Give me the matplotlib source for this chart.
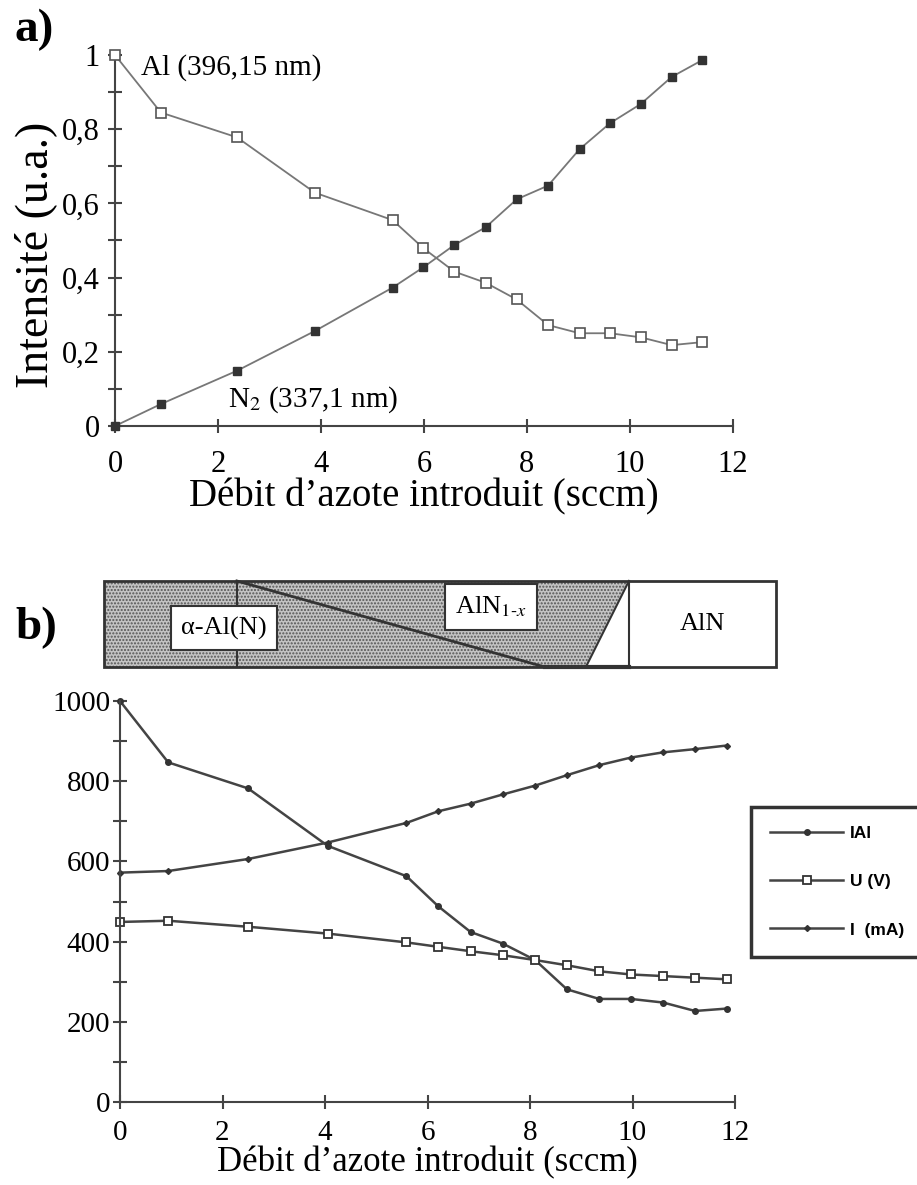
import matplotlib.pyplot as plt
from matplotlib.patches import Polygon, Rectangle

plt.rcParams['font.family'] = ['Liberation Serif', 'DejaVu Serif']
plt.rcParams['mathtext.fontset'] = 'stix'

# panel a : emission intensities vs nitrogen flow
debit_a = [0, 0.89, 2.37, 3.88, 5.39, 5.99, 6.59, 7.2, 7.8, 8.41, 9.02, 9.61, 10.21, 10.81, 11.4]
al_396 = [1.0, 0.845, 0.778, 0.629, 0.555, 0.479, 0.416, 0.386, 0.341, 0.272, 0.250, 0.250, 0.239, 0.218, 0.226]
n2_337 = [0, 0.059, 0.149, 0.256, 0.373, 0.428, 0.488, 0.536, 0.611, 0.648, 0.746, 0.816, 0.868, 0.941, 0.986]

# panel b : discharge parameters vs nitrogen flow
debit_b = [0, 0.94, 2.5, 4.05, 5.59, 6.21, 6.84, 7.47, 8.1, 8.72, 9.35, 9.97, 10.6, 11.22, 11.84]
i_al = [1000, 847, 782, 639, 563, 488, 424, 395, 354, 281, 257, 257, 248, 227, 233]
u_v = [449, 452, 437, 420, 398, 387, 376, 366, 354, 341, 326, 318, 314, 310, 306]
i_ma = [572, 576, 606, 647, 696, 725, 744, 767, 789, 815, 840, 859, 872, 880, 889]

# phase band above panel b (in sccm)
band_left, band_right = -0.31, 12.8
alpha_edge = 2.28
diag_end = 8.29
slant_bottom, slant_top = 9.09, 9.93

xlabel = "Débit d\u2019azote introduit (sccm)"

fig = plt.figure(figsize=(9.17, 11.85), dpi=100)
W, H = 917, 1185


def px_axes(x0, y0, x1, y1):
    # pixel box (top-left origin) -> figure axes
    return fig.add_axes([x0 / W, 1 - y1 / H, (x1 - x0) / W, (y1 - y0) / H])


def style_axes(ax):
    for s in ['top', 'right']:
        ax.spines[s].set_visible(False)
    for s in ['left', 'bottom']:
        ax.spines[s].set_color('#444')
        ax.spines[s].set_linewidth(1.5)
    ax.tick_params(which='both', direction='inout', color='#444', width=1.5)
    ax.tick_params(which='major', length=10)
    ax.tick_params(which='minor', length=10)


# ---------------- panel a ----------------
ax1 = px_axes(115, 55, 733, 426)
style_axes(ax1)
ax1.plot(debit_a, al_396, color='#777', lw=1.3, marker='s', ms=7,
         mfc='white', mec='#555', mew=1.2, clip_on=False, zorder=3)
ax1.plot(debit_a, n2_337, color='#777', lw=1.3, marker='s', ms=5.5,
         mfc='#333', mec='#333', clip_on=False, zorder=3)
ax1.set_xlim(0, 12)
ax1.set_ylim(0, 1)
ax1.set_xticks(range(0, 13, 2))
ax1.set_yticks([0, 0.2, 0.4, 0.6, 0.8, 1])
ax1.set_yticklabels(['0', '0,2', '0,4', '0,6', '0,8', '1'])
ax1.set_yticks([0.1, 0.3, 0.5, 0.7, 0.9], minor=True)
ax1.tick_params(labelsize=22)
ax1.tick_params(axis='x', pad=12)
ax1.tick_params(axis='y', pad=6)
ax1.set_xlabel(xlabel, fontsize=28, labelpad=0)
ax1.set_ylabel('Intensité (u.a.)', fontsize=33, labelpad=2)
ax1.yaxis.set_label_coords(-0.094, 0.46)
ax1.text(0.5, 0.965, 'Al (396,15 nm)', fontsize=21, va='center')
ax1.text(2.2, 0.07, 'N$_2$ (337,1 nm)', fontsize=21, va='center')
fig.text(15 / W, 1 - 30 / H, 'a)', fontsize=34, fontweight='bold', va='center')

# ---------------- phase band ----------------
axb = px_axes(120, 581, 735, 667)
axb.set_xlim(0, 12)
axb.set_ylim(0, 1)
axb.axis('off')
shade = Polygon([(band_left, 0), (band_left, 1), (slant_top, 1), (slant_bottom, 0)],
                closed=True, facecolor='#c4c4c4', edgecolor='#555', hatch='.....',
                lw=0, clip_on=False)
axb.add_patch(shade)
axb.add_patch(Rectangle((band_left, 0), band_right - band_left, 1, fill=False,
                        ec='#333', lw=2, clip_on=False))
axb.plot([alpha_edge, alpha_edge], [0, 1], color='#333', lw=1.5, clip_on=False)
axb.plot([alpha_edge, diag_end], [1, 0], color='#333', lw=2, clip_on=False)
axb.plot([diag_end, slant_top], [0, 0], color='#333', lw=3, clip_on=False)
axb.plot([slant_top, slant_bottom], [1, 0], color='#333', lw=1.5, clip_on=False)
axb.plot([slant_top, slant_top], [0, 1], color='#333', lw=1.5, clip_on=False)
box = dict(boxstyle='square,pad=0.4', fc='white', ec='#333', lw=1.5)
axb.text(2.03, 0.45, '\u03b1-Al(N)', fontsize=19, ha='center', va='center', bbox=box)
axb.text(7.24, 0.70, 'AlN$_{1\\text{-}x}$', fontsize=19, ha='center', va='center', bbox=box)
axb.text((slant_top + band_right) / 2, 0.5, 'AlN', fontsize=19, ha='center', va='center')
fig.text(15 / W, 1 - 628 / H, 'b)', fontsize=34, fontweight='bold', va='center')

# ---------------- panel b ----------------
ax2 = px_axes(120, 701, 735, 1102)
style_axes(ax2)
l1, = ax2.plot(debit_b, i_al, color='#444', lw=1.8, marker='o', ms=4,
               mfc='#333', mec='#333', clip_on=False, label='IAl')
l2, = ax2.plot(debit_b, u_v, color='#444', lw=1.8, marker='s', ms=5.5,
               mfc='white', mec='#333', mew=1.3, clip_on=False, label='U (V)')
l3, = ax2.plot(debit_b, i_ma, color='#444', lw=1.8, marker='D', ms=3,
               mfc='#333', mec='#333', clip_on=False, label='I  (mA)')
ax2.set_xlim(0, 12)
ax2.set_ylim(0, 1000)
ax2.set_xticks(range(0, 13, 2))
ax2.set_yticks(range(0, 1001, 200))
ax2.set_yticks(range(100, 1000, 200), minor=True)
ax2.tick_params(labelsize=21)
ax2.tick_params(axis='x', pad=8)
ax2.tick_params(axis='y', pad=2)
ax2.set_xlabel(xlabel, fontsize=25, labelpad=0)

leg = fig.legend(handles=[l1, l2, l3], loc='upper left',
                 bbox_to_anchor=(751 / W, 1 - 807 / H),
                 prop={'family': 'Liberation Sans', 'weight': 'bold', 'size': 12.5},
                 fancybox=False, framealpha=1, edgecolor='#333',
                 handlelength=4.2, labelspacing=1.9, borderpad=1.1,
                 borderaxespad=0, handletextpad=0.4)
leg.get_frame().set_linewidth(2.5)

fig.savefig('out.png', dpi=100)
